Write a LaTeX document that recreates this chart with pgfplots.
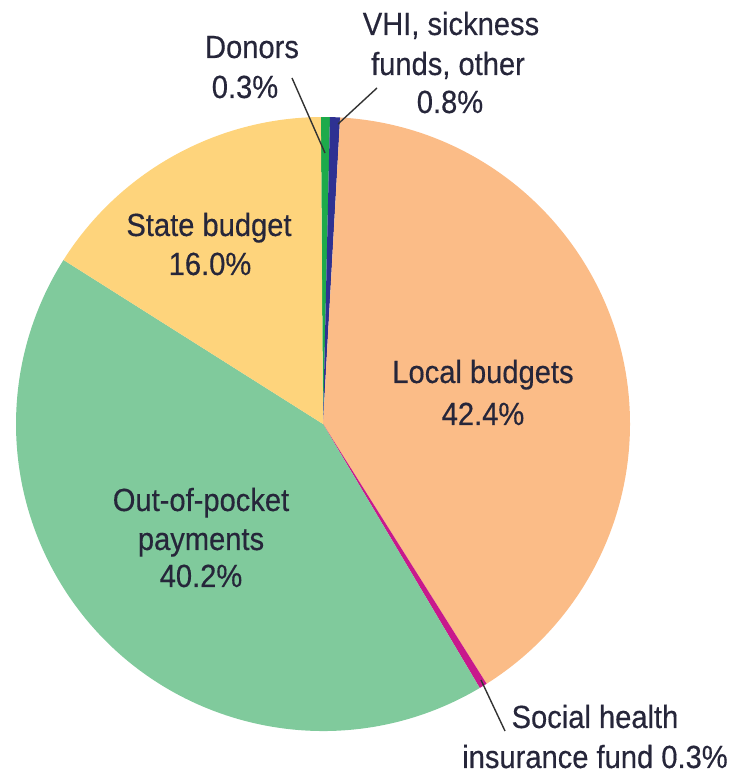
\documentclass[border=0pt]{standalone}
\usepackage{fontspec}
\setmainfont{Liberation Sans}[FakeStretch=0.91, FakeBold=0.4]
\usepackage{pgfplots}
\pgfplotsset{compat=1.18}

\definecolor{cDonor}{HTML}{1DAA4B}
\definecolor{cVHI}{HTML}{2E3192}
\definecolor{cLocal}{HTML}{FBBC87}
\definecolor{cSocial}{HTML}{C8198C}
\definecolor{cOOP}{HTML}{80CA9C}
\definecolor{cState}{HTML}{FED47C}
\definecolor{cText}{HTML}{26263A}

\begin{document}
\begin{tikzpicture}
\begin{axis}[
    x=1pt, y=1pt,
    xmin=0, xmax=732, ymin=0, ymax=775,
    hide axis, clip=false,
]
    % keep the whole 732x775 frame in the picture
    \path (axis cs:0,0) rectangle (axis cs:732,775);

    % slices, clockwise from the top (angles as drawn in the picture)
    % Donors 0.3, VHI 0.8, Local 42.4, Social 0.3, OOP 40.2, State 16.0
    \fill[cDonor]  (axis cs:323,351) -- ++(90.4:307pt)   arc[start angle=90.4,   end angle=88.7,   radius=307pt] -- cycle;
    \fill[cVHI]    (axis cs:323,351) -- ++(88.7:307pt)   arc[start angle=88.7,   end angle=86.8,   radius=307pt] -- cycle;
    \fill[cLocal]  (axis cs:323,351) -- ++(86.8:307pt)   arc[start angle=86.8,   end angle=-57.8,  radius=307pt] -- cycle;
    \fill[cSocial] (axis cs:323,351) -- ++(-57.8:307pt)  arc[start angle=-57.8,  end angle=-59.3,  radius=307pt] -- cycle;
    \fill[cOOP]    (axis cs:323,351) -- ++(-59.3:307pt)  arc[start angle=-59.3,  end angle=-212.3, radius=307pt] -- cycle;
    \fill[cState]  (axis cs:323,351) -- ++(-212.3:307pt) arc[start angle=-212.3, end angle=-269.6, radius=307pt] -- cycle;

    % leader lines
    \draw[black!80, line width=1.4pt] (axis cs:292,697) -- (axis cs:325,622);
    \draw[black!80, line width=1.4pt] (axis cs:377,687) -- (axis cs:338,651);
    \draw[black!80, line width=1.4pt] (axis cs:481,95) -- (axis cs:505,44);

    % labels
    \begin{scope}[every node/.style={anchor=base, inner sep=0pt, text=cText, font=\fontsize{32}{40}\selectfont}]
    \node at (axis cs:252,717) {Donors};
    \node at (axis cs:245,677) {0.3\%};
    \node at (axis cs:451,740) {VHI, sickness};
    \node at (axis cs:448,700) {funds, other};
    \node at (axis cs:450,662) {0.8\%};
    \node at (axis cs:209,539) {State budget};
    \node at (axis cs:210,500) {16.0\%};
    \node at (axis cs:483,392) {Local budgets};
    \node at (axis cs:483,350) {42.4\%};
    \node at (axis cs:201,264) {Out-of-pocket};
    \node at (axis cs:201,225) {payments};
    \node at (axis cs:201,188) {40.2\%};
    \node at (axis cs:595,47) {Social health};
    \node at (axis cs:595,7) {insurance fund 0.3\%};
    \end{scope}
\end{axis}
\end{tikzpicture}
\end{document}
